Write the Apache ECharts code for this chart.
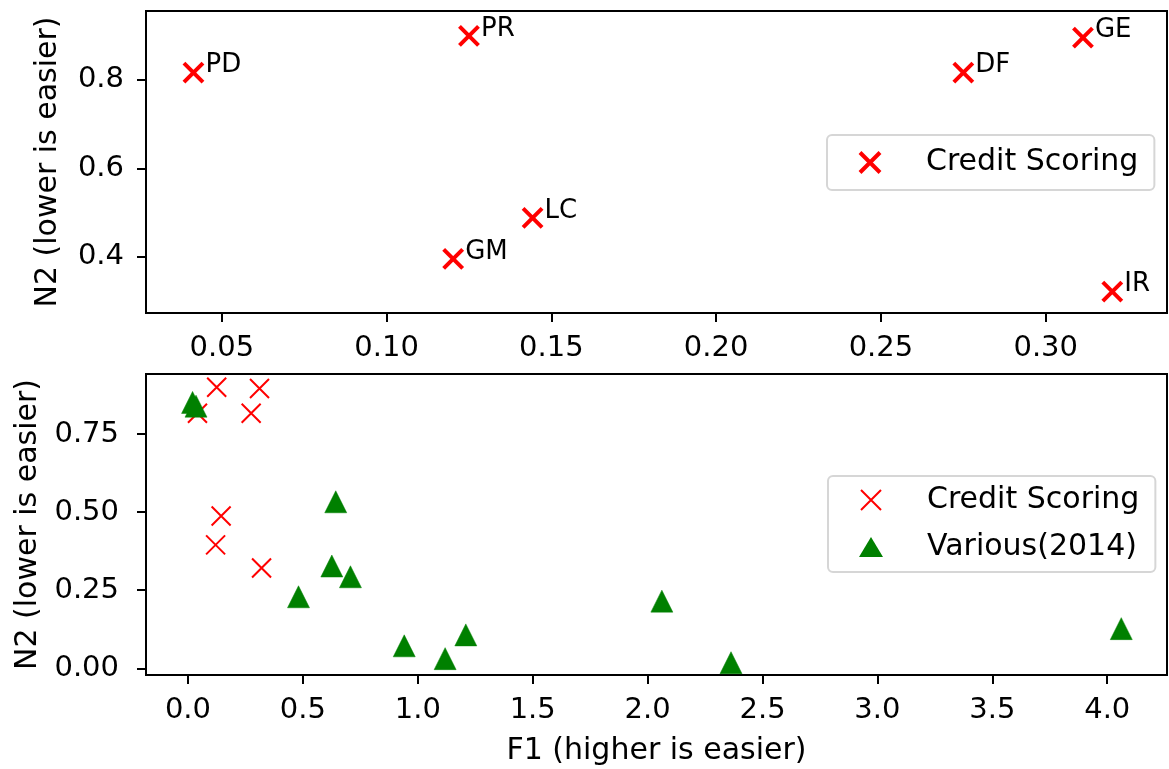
<!DOCTYPE html>
<html><head><meta charset="utf-8">
<script src="https://cdn.jsdelivr.net/npm/echarts@6/dist/echarts.min.js"></script>
<style>html,body{margin:0;padding:0;background:#fff}#c{width:1169px;height:769px}</style>
</head><body><div id="c"></div>
<script>
// ---- data ----
const credNames = ['PD', 'PR', 'GM', 'LC', 'DF', 'GE', 'IR'];
const credF1 = [0.0414, 0.125, 0.1202, 0.1443, 0.275, 0.3113, 0.3202];
const credN2 = [0.8165, 0.8996, 0.395, 0.4876, 0.8165, 0.8958, 0.321];
const varF1 = [0.020, 0.035, 0.643, 0.626, 0.707, 0.481, 0.941, 1.119, 1.209, 2.062, 2.363, 4.061];
const varN2 = [0.851, 0.839, 0.533, 0.3275, 0.293, 0.229, 0.072, 0.031, 0.107, 0.215, 0.018, 0.127];
const topXTicks = [0.05, 0.10, 0.15, 0.20, 0.25, 0.30];
const topYTicks = [0.4, 0.6, 0.8];
const botXTicks = [0, 0.5, 1.0, 1.5, 2.0, 2.5, 3.0, 3.5, 4.0];
const botYTicks = [0, 0.25, 0.5, 0.75];
const seriesNames = ['Credit Scoring', 'Various(2014)'];

// ---- chart ----
const FONT = 'DejaVu Sans';
const XPATH = 'path://M0,0L10,10M10,0L0,10';
const RED = '#ff0000', GREEN = '#008000';

function valAxis(gridIndex, min, max, ticks, dec, margin, extra) {
  return Object.assign({
    type: 'value', gridIndex, min, max,
    axisLine: {show: true, onZero: false, lineStyle: {color: '#000', width: 2}},
    axisTick: {show: true, customValues: ticks, length: 9, lineStyle: {color: '#000', width: 2}},
    axisLabel: {customValues: ticks, formatter: v => Number(v).toFixed(dec), margin,
      color: '#000', fontSize: 29, fontFamily: FONT},
    splitLine: {show: false}
  }, extra || {});
}
const nameStyle = {color: '#000', fontSize: 30, fontFamily: FONT};

const credData = credF1.map((x, i) => [x, credN2[i], credNames[i]]);
const varData = varF1.map((x, i) => [x, varN2[i]]);

const legendCommon = {
  orient: 'vertical', selectedMode: false, itemWidth: 24, itemHeight: 20,
  borderColor: '#d6d6d6', borderWidth: 2, borderRadius: 5, backgroundColor: '#fff',
  textStyle: {fontSize: 30, fontFamily: FONT, color: '#000', padding: [0, 0, 0, 39], lineHeight: 32}
};

const option = {
  animation: false,
  grid: [
    {left: 146, top: 11, width: 1021, height: 302, show: true, borderColor: '#000', borderWidth: 2},
    {left: 146, top: 374, width: 1021, height: 301, show: true, borderColor: '#000', borderWidth: 2}
  ],
  xAxis: [
    valAxis(0, 0.027, 0.3368, topXTicks, 2, 21),
    valAxis(1, -0.1826, 4.26, botXTicks, 1, 21,
      {name: 'F1 (higher is easier)', nameLocation: 'middle', nameGap: 61, nameTextStyle: nameStyle})
  ],
  yAxis: [
    valAxis(0, 0.2725, 0.956, topYTicks, 1, 22,
      {name: 'N2 (lower is easier)', nameLocation: 'middle', nameGap: 83, nameTextStyle: nameStyle}),
    valAxis(1, -0.0214, 0.942, botYTicks, 2, 27,
      {name: 'N2 (lower is easier)', nameLocation: 'middle', nameGap: 102, nameTextStyle: nameStyle})
  ],
  legend: [
    Object.assign({}, legendCommon, {
      left: 827, top: 135, padding: [11.5, 16, 11.5, 31],
      data: [{name: seriesNames[0], icon: XPATH,
        itemStyle: {color: 'rgba(0,0,0,0)', borderColor: RED, borderWidth: 4, opacity: 1}}]
    }),
    Object.assign({}, legendCommon, {
      left: 828, top: 476, padding: [8, 16, 9, 31], itemGap: 15,
      data: [
        {name: seriesNames[0], icon: XPATH,
          itemStyle: {color: 'rgba(0,0,0,0)', borderColor: RED, borderWidth: 2, opacity: 1}},
        {name: seriesNames[1], icon: 'triangle',
          itemStyle: {color: GREEN, borderColor: GREEN, borderWidth: 0, opacity: 1}}
      ]
    })
  ],
  series: [
    {
      type: 'scatter', name: seriesNames[0], xAxisIndex: 0, yAxisIndex: 0, data: credData,
      symbol: XPATH, symbolSize: 19,
      itemStyle: {color: 'rgba(0,0,0,0)', borderColor: RED, borderWidth: 4, opacity: 1},
      label: {show: true, formatter: p => p.data[2], position: [23.5, 17.5], align: 'left',
        verticalAlign: 'bottom', fontSize: 26, lineHeight: 26, fontFamily: FONT, color: '#000', opacity: 1},
      emphasis: {disabled: true}
    },
    {
      type: 'scatter', name: seriesNames[0], xAxisIndex: 1, yAxisIndex: 1, data: credData,
      symbol: XPATH, symbolSize: 19,
      itemStyle: {color: 'rgba(0,0,0,0)', borderColor: RED, borderWidth: 2, opacity: 1},
      emphasis: {disabled: true}
    },
    {
      type: 'scatter', name: seriesNames[1], xAxisIndex: 1, yAxisIndex: 1, data: varData,
      symbol: 'triangle', symbolSize: 22,
      itemStyle: {color: GREEN, borderColor: GREEN, borderWidth: 0.5, opacity: 1},
      emphasis: {disabled: true}
    }
  ]
};
const chart = echarts.init(document.getElementById('c'), null, {renderer: 'canvas'});
chart.setOption(option);
</script></body></html>
